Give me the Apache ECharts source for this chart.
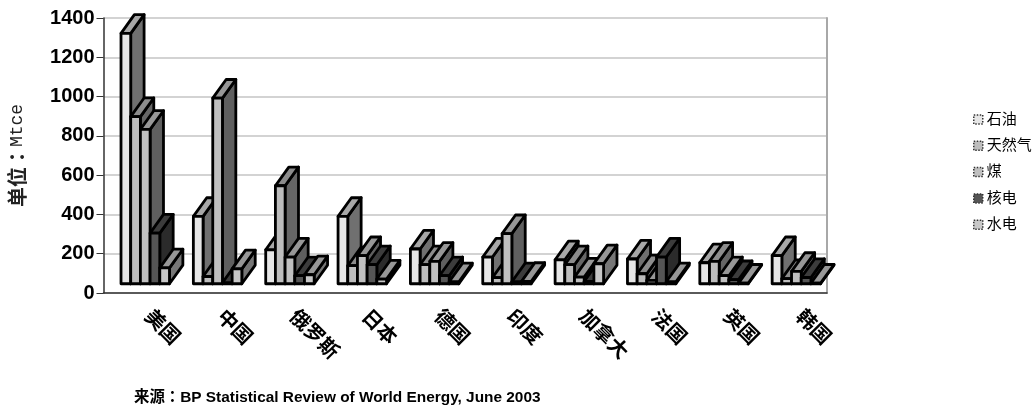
<!DOCTYPE html>
<html>
<head>
<meta charset="utf-8">
<title>能源消费</title>
<script src="https://cdn.jsdelivr.net/npm/echarts@6/dist/echarts.min.js"></script>
<style>
  html, body { margin: 0; padding: 0; background: #fff; }
  #main { width: 1036px; height: 408px; }
</style>
</head>
<body>
<div id="main"></div>
<script>
const categories = ['美国', '中国', '俄罗斯', '日本', '德国', '印度', '加拿大', '法国', '英国', '韩国'];
const oil     = [1322, 390, 220, 390, 224, 183, 169, 173, 154, 190];
const gas     = [898, 84, 546, 139, 144, 78, 144, 98, 161, 73];
const coal    = [833, 992, 183, 190, 161, 302, 81, 64, 88, 110];
const nuclear = [305, 52, 88, 144, 88, 57, 59, 183, 68, 79];
const hydro   = [128, 123, 93, 71, 57, 59, 149, 57, 50, 50];
const seriesNames = ['石油', '天然气', '煤', '核电', '水电'];
const yTicks = { max: 1400, step: 200 };

// 每个系列的 正面/顶面/侧面 灰度
const frontColors = ['#e6e6e6', '#bdbdbd', '#c0c0c0', '#555555', '#c8c8c8'];
const topColors   = ['#a8a8a8', '#8c8c8c', '#979797', '#3c3c3c', '#979797'];
const sideColors  = ['#707070', '#666666', '#5f5f5f', '#2b2b2b', '#777777'];

const chartDom = document.getElementById('main');
const chart = echarts.init(chartDom);

const barShare = 0.134;     // 柱宽占类目宽度
const groupShift = -0.258;  // 第一根柱子相对类目中心的偏移
const depthShare = 0.185;   // 立体进深(水平)
const depthValue = 95;      // 立体进深(竖直,按数值计)
const baseValue = 47;       // 柱子底边所在的数值

function renderBar(seriesIdx) {
  return function (params, api) {
    const band = api.size([1, 0])[0];
    const w = band * barShare;
    const dx = band * depthShare;
    const dy = api.size([0, depthValue])[1];
    const top = api.coord([api.value(0), api.value(1)]);
    const bottom = api.coord([api.value(0), baseValue]);
    const x0 = top[0] + band * groupShift + seriesIdx * w;
    const x1 = x0 + w;
    const line = { stroke: '#000', lineWidth: 2.8, lineJoin: 'round' };
    return {
      type: 'group',
      children: [
        {
          type: 'polygon',
          shape: { points: [[x1, top[1]], [x1 + dx, top[1] - dy], [x1 + dx, bottom[1] - dy], [x1, bottom[1]]] },
          style: Object.assign({ fill: sideColors[seriesIdx] }, line)
        },
        {
          type: 'polygon',
          shape: { points: [[x0, top[1]], [x0 + dx, top[1] - dy], [x1 + dx, top[1] - dy], [x1, top[1]]] },
          style: Object.assign({ fill: topColors[seriesIdx] }, line)
        },
        {
          type: 'rect',
          shape: { x: x0, y: top[1], width: w, height: bottom[1] - top[1] },
          style: Object.assign({ fill: frontColors[seriesIdx] }, line)
        }
      ]
    };
  };
}

function makeSeries(name, values, idx) {
  return {
    name: name,
    type: 'custom',
    renderItem: renderBar(idx),
    encode: { x: 0, y: 1 },
    clip: false,
    itemStyle: { color: frontColors[idx] },
    z: 3 + idx,
    data: values.map((v, i) => [i, v])
  };
}

const option = {
  animation: false,
  backgroundColor: '#fff',
  textStyle: { fontFamily: '"Liberation Sans", "Noto Sans CJK TC", sans-serif' },
  title: {
    text: '来源：BP Statistical Review of World Energy, June 2003',
    left: 134,
    top: 390,
    padding: 0,
    textStyle: { fontSize: 15.4, fontWeight: 'bold', color: '#000' }
  },
  legend: {
    orient: 'vertical',
    left: 973,
    top: 112,
    padding: 0,
    icon: 'rect',
    itemWidth: 9,
    itemHeight: 9,
    itemGap: 11.3,
    selectedMode: false,
    itemStyle: { borderColor: '#333', borderWidth: 1.5, borderType: 'dotted' },
    textStyle: { fontSize: 15, color: '#000', padding: [0, 0, 0, -1] },
    data: seriesNames
  },
  grid: { left: 103.5, right: 209, top: 18, bottom: 115, outerBoundsMode: 'none' },
  xAxis: {
    type: 'category',
    data: categories,
    boundaryGap: true,
    axisLine: { lineStyle: { color: '#333', width: 1.5 } },
    axisTick: { length: 4, lineStyle: { color: '#333', width: 1 } },
    axisLabel: {
      interval: 0,
      rotate: -45,
      fontSize: 20,
      color: '#000',
      margin: 13,
      padding: [0, 0, 0, 11],
      fontWeight: 'bold'
    }
  },
  yAxis: [
    {
      type: 'value',
      min: 0,
      max: yTicks.max,
      interval: yTicks.step,
      name: '{cn|单位：}{en|Mtce}',
      nameLocation: 'middle',
      nameGap: 76,
      nameTextStyle: {
        rich: {
          cn: { fontSize: 20, fontWeight: 'bold', color: '#222', fontFamily: '"Noto Sans CJK TC"' },
          en: { fontSize: 18, color: '#222', fontFamily: '"Liberation Mono"' }
        }
      },
      axisLine: { show: true, lineStyle: { color: '#333', width: 1.5 } },
      axisTick: { show: true, length: 7, lineStyle: { color: '#333', width: 1 } },
      axisLabel: {
        fontSize: 20,
        fontWeight: 'bold',
        color: '#000',
        margin: 9,
        formatter: (v) => String(v)
      },
      splitLine: { lineStyle: { color: '#c4c4c4', width: 1.5 } }
    },
    {
      type: 'value',
      position: 'right',
      min: 0,
      max: yTicks.max,
      interval: yTicks.step,
      axisLine: { show: true, lineStyle: { color: '#a8a8a8', width: 2 } },
      axisTick: { show: false },
      axisLabel: { show: false },
      splitLine: { show: false }
    }
  ],
  series: [oil, gas, coal, nuclear, hydro].map((values, i) => makeSeries(seriesNames[i], values, i))
};

chart.setOption(option);
</script>
</body>
</html>
